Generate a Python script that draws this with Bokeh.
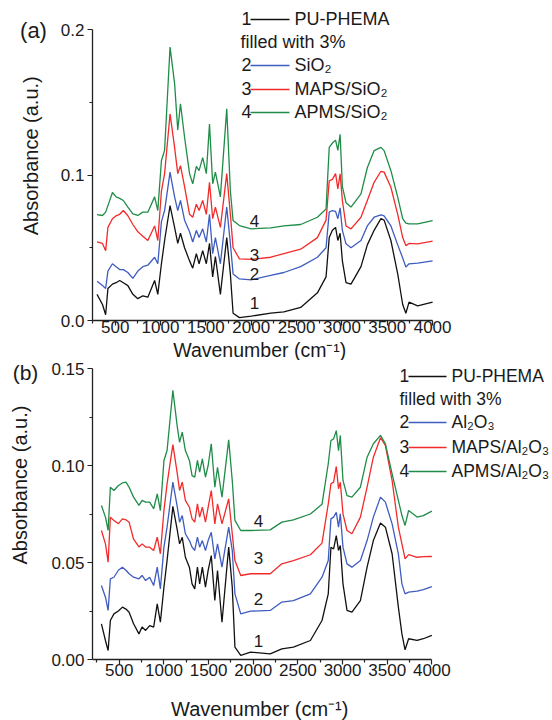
import math
from bokeh.plotting import figure
from bokeh.layouts import column, row
from bokeh.models import Label, FixedTicker, PrintfTickFormatter, Range1d
from bokeh.core.properties import value
from bokeh.embed import file_html
from bokeh.resources import INLINE

# ---------------- data: panel (a), SiO2 fillers ----------------
WN_A = [300, 360, 395, 420, 470, 510, 550, 590, 640, 695, 750, 805, 860, 935, 970,
        1010, 1045, 1105, 1155, 1190, 1220, 1265, 1320, 1355, 1395, 1425, 1465, 1505,
        1540, 1575, 1605, 1660, 1730, 1770, 1800, 1870, 2000, 2215, 2360, 2545, 2730,
        2825, 2860, 2895, 2930, 2955, 2980, 3005, 3045, 3100, 3210, 3280, 3355, 3430,
        3465, 3540, 3615, 3670, 3705, 3740, 3835, 4000]
A1 = [0.018, 0.011, 0.004, 0.022, 0.025, 0.026, 0.0275, 0.026, 0.024, 0.018, 0.015, 0.017,
      0.016, 0.0275, 0.018, 0.039, 0.055, 0.079, 0.064, 0.053, 0.060, 0.050, 0.041, 0.036,
      0.046, 0.039, 0.048, 0.039, 0.053, 0.030, 0.044, 0.018, 0.057, 0.032, 0.005, 0.002,
      0.003, 0.005, 0.006, 0.009, 0.019, 0.030, 0.057, 0.062, 0.064, 0.055, 0.060, 0.041,
      0.026, 0.025, 0.037, 0.052, 0.062, 0.070, 0.069, 0.055, 0.032, 0.011, 0.005, 0.0126,
      0.010, 0.0126]
A2 = [0.027, 0.024, 0.022, 0.034, 0.039, 0.037, 0.035, 0.035, 0.033, 0.029, 0.034, 0.037,
      0.038, 0.0435, 0.039, 0.068, 0.0756, 0.102, 0.085, 0.0756, 0.0825, 0.069, 0.061, 0.054,
      0.062, 0.057, 0.063, 0.054, 0.073, 0.046, 0.057, 0.039, 0.078, 0.053, 0.032, 0.0286,
      0.028, 0.031, 0.033, 0.037, 0.0435, 0.050, 0.0745, 0.0756, 0.075, 0.070, 0.0774, 0.062,
      0.0527, 0.050, 0.055, 0.065, 0.071, 0.0726, 0.072, 0.065, 0.052, 0.043, 0.0367, 0.039,
      0.0394, 0.041]
A3 = [0.054, 0.053, 0.048, 0.064, 0.070, 0.072, 0.073, 0.0756, 0.072, 0.066, 0.061, 0.058,
      0.055, 0.065, 0.055, 0.089, 0.101, 0.142, 0.119, 0.101, 0.1065, 0.092, 0.073, 0.071,
      0.080, 0.0756, 0.0825, 0.073, 0.095, 0.070, 0.078, 0.064, 0.101, 0.073, 0.050, 0.0424,
      0.042, 0.0435, 0.046, 0.049, 0.057, 0.069, 0.096, 0.097, 0.101, 0.0905, 0.1008, 0.0825,
      0.065, 0.063, 0.071, 0.0825, 0.095, 0.1026, 0.102, 0.0916, 0.073, 0.057, 0.0515, 0.053,
      0.0527, 0.0545]
A4 = [0.0728, 0.0722, 0.0745, 0.079, 0.088, 0.085, 0.084, 0.0825, 0.078, 0.0733, 0.0722,
      0.0745, 0.0745, 0.085, 0.0756, 0.110, 0.117, 0.188, 0.163, 0.131, 0.149, 0.126, 0.101,
      0.094, 0.106, 0.103, 0.112, 0.101, 0.135, 0.094, 0.102, 0.085, 0.1455, 0.089, 0.0687,
      0.0653, 0.063, 0.0637, 0.065, 0.066, 0.071, 0.0767, 0.119, 0.122, 0.124, 0.117, 0.128,
      0.092, 0.081, 0.078, 0.087, 0.105, 0.1168, 0.119, 0.1168, 0.103, 0.0848, 0.070, 0.067,
      0.0664, 0.0664, 0.0687]

# ---------------- data: panel (b), Al2O3 fillers ----------------
WN_B = [300, 345, 375, 400, 440, 490, 535, 575, 610, 660, 720, 755, 795, 840, 885, 925, 960,
        1000, 1035, 1100, 1150, 1175, 1205, 1240, 1285, 1315, 1345, 1375, 1400, 1430, 1465,
        1495, 1530, 1570, 1600, 1650, 1725, 1765, 1795, 1860, 1970, 2190, 2320, 2450, 2640,
        2770, 2840, 2870, 2900, 2930, 2955, 2975, 3005, 3050, 3105, 3200, 3275, 3345, 3425,
        3480, 3555, 3625, 3665, 3700, 3740, 3835, 3905, 4000]
B1 = [0.0184, 0.0098, 0.0046, 0.0201, 0.0235, 0.025, 0.027, 0.026, 0.0244, 0.0184, 0.0132,
      0.0167, 0.015, 0.0175, 0.0167, 0.0287, 0.0192, 0.0373, 0.051, 0.0789, 0.0665, 0.0596,
      0.063, 0.0527, 0.0476, 0.039, 0.0364, 0.0476, 0.039, 0.0476, 0.0373, 0.0459, 0.0536,
      0.0304, 0.0459, 0.0192, 0.0579, 0.0373, 0.0064, 0.0021, 0.0038, 0.0029, 0.0055, 0.0064,
      0.0098, 0.0201, 0.0338, 0.0579, 0.057, 0.0639, 0.0562, 0.0588, 0.039, 0.0253, 0.0244,
      0.0304, 0.0476, 0.0613, 0.0703, 0.0682, 0.0545, 0.027, 0.0132, 0.005, 0.0107, 0.0098,
      0.0107, 0.0124]
B2 = [0.0381, 0.0321, 0.0253, 0.0416, 0.0424, 0.046, 0.0476, 0.046, 0.0442, 0.0424, 0.0416,
      0.0433, 0.0407, 0.0424, 0.0381, 0.0476, 0.0364, 0.0579, 0.0682, 0.0914, 0.0785, 0.0708,
      0.0742, 0.0648, 0.0613, 0.0579, 0.0562, 0.0631, 0.0579, 0.0613, 0.0562, 0.0613, 0.0656,
      0.0519, 0.0596, 0.0476, 0.0682, 0.0562, 0.0338, 0.0235, 0.0249, 0.0253, 0.0296, 0.0304,
      0.0338, 0.0424, 0.051, 0.0725, 0.0734, 0.0759, 0.0682, 0.0751, 0.0579, 0.0493, 0.0476,
      0.051, 0.0613, 0.0734, 0.0837, 0.0811, 0.0699, 0.0545, 0.039, 0.0338, 0.0347, 0.0352,
      0.036, 0.0376]
B3 = [0.0665, 0.0596, 0.0502, 0.0734, 0.0717, 0.070, 0.0725, 0.072, 0.0708, 0.062, 0.058,
      0.0596, 0.058, 0.0579, 0.0562, 0.0631, 0.0545, 0.0768, 0.0905, 0.1108, 0.0957, 0.0871,
      0.0914, 0.082, 0.0785, 0.0725, 0.0708, 0.0802, 0.0734, 0.0785, 0.0708, 0.0785, 0.0871,
      0.0699, 0.0802, 0.0699, 0.0828, 0.0648, 0.051, 0.0433, 0.0442, 0.0442, 0.0493, 0.051,
      0.054, 0.060, 0.0802, 0.0906, 0.0914, 0.0995, 0.088, 0.0914, 0.0751, 0.0665, 0.0648,
      0.0734, 0.0888, 0.1043, 0.1143, 0.1103, 0.0923, 0.0682, 0.0596, 0.0519, 0.0541, 0.0527,
      0.053, 0.0531]
B4 = [0.0794, 0.0734, 0.0665, 0.0888, 0.0871, 0.0897, 0.091, 0.0914, 0.0888, 0.0837, 0.0794,
      0.082, 0.0811, 0.0811, 0.0777, 0.0854, 0.0768, 0.1026, 0.1077, 0.1387, 0.1198, 0.112,
      0.1172, 0.1077, 0.1026, 0.0948, 0.094, 0.1026, 0.0966, 0.1034, 0.094, 0.100, 0.1112,
      0.0888, 0.0991, 0.0837, 0.1132, 0.0923, 0.0717, 0.0665, 0.0665, 0.0668, 0.0708, 0.072,
      0.075, 0.080, 0.1009, 0.1129, 0.1137, 0.118, 0.1077, 0.1155, 0.0923, 0.0845, 0.0837,
      0.0888, 0.1043, 0.1112, 0.1155, 0.1112, 0.0957, 0.082, 0.0742, 0.0691, 0.0768, 0.0734,
      0.0742, 0.0765]

X_TICKS = [500, 1000, 1500, 2000, 2500, 3000, 3500, 4000]
X_MINOR = [250, 750, 1250, 1750, 2250, 2750, 3250, 3750]
YA_TICKS = [0.0, 0.1, 0.2]
YA_MINOR = [0.05, 0.15]
YB_TICKS = [0.0, 0.05, 0.10, 0.15]
YB_MINOR = [0.025, 0.075, 0.125]

LEG_A = ["PU-PHEMA", "filled with 3%", "SiO\u2082", "MAPS/SiO\u2082", "APMS/SiO\u2082"]
LEG_B = ["PU-PHEMA", "filled with 3%", "Al\u2082O\u2083", "MAPS/Al\u2082O\u2083", "APMS/Al\u2082O\u2083"]
X_TITLE = "Wavenumber  (cm\u207b\u00b9)"
Y_TITLE = "Absorbance  (a.u.)"
COLORS = ["#111111", "#3f5cbf", "#f22a2a", "#1f8c48"]
FONT = "Liberation Sans"
TXT = "#1a1a1a"
STRIP_W = 46


def text_fig(w, h, items):
    """A bare figure used only to hold free text outside the plot frames."""
    s = figure(width=w, height=h, x_range=Range1d(0, w), y_range=Range1d(0, h),
               output_backend="svg", toolbar_location=None, min_border=0,
               x_axis_type=None, y_axis_type=None)
    s.outline_line_color = None
    s.background_fill_color = "white"
    s.border_fill_color = "white"
    for x, y, t, size, ang in items:
        s.text(x=[x], y=[y], text=[t], angle=ang, text_font=value(FONT),
               text_font_size=value(f"{size}px"), text_align=value("center"),
               text_baseline=value("middle"), text_color=TXT)
    return s


def base_fig(h, x0, x1, y1, bottom, xstand):
    p = figure(width=552 - STRIP_W, height=h, x_range=Range1d(x0, x1), y_range=Range1d(0, y1),
               output_backend="svg", toolbar_location=None,
               min_border_left=92 - STRIP_W, min_border_right=0, min_border_top=0,
               min_border_bottom=bottom)
    p.outline_line_color = None
    p.xgrid.visible = False
    p.ygrid.visible = False
    p.background_fill_color = "white"
    p.border_fill_color = "white"
    for ax in (p.xaxis[0], p.yaxis[0]):
        ax.axis_line_width = 1.3
        ax.axis_line_color = "#222222"
        ax.major_tick_line_color = "#222222"
        ax.minor_tick_line_color = "#222222"
        ax.major_tick_line_width = 1.2
        ax.minor_tick_line_width = 1.2
        ax.major_tick_in = 0
        ax.major_tick_out = 5
        ax.minor_tick_in = 0
        ax.minor_tick_out = 3
        ax.major_label_text_font = FONT
        ax.major_label_text_font_size = "17px"
        ax.major_label_text_color = TXT
        ax.major_label_standoff = 3
    xa = p.xaxis[0]
    xa.ticker = FixedTicker(ticks=X_TICKS, minor_ticks=X_MINOR)
    xa.major_label_standoff = xstand
    return p


def lab(p, x, y, text, size, align="left"):
    p.add_layout(Label(x=x, y=y, text=text, text_font=FONT, text_font_size=f"{size}px",
                       text_align=align, text_baseline="middle", text_color=TXT))


nums = ["1", None, "2", "3", "4"]
cidx = [0, None, 1, 2, 3]

# ---------------- panel (a) ----------------
HA = 340        # plot row height of panel (a)
TA = 20         # strip holding the (a) x-axis title
SA_X = 0.0907   # px per cm-1
SA_Y = 1454.5   # px per absorbance unit
def ax_(px): return 250 + (px - 92) / SA_X
def ay_(py): return (320 - py) / SA_Y

pa = base_fig(HA, 250, ax_(552), ay_(0), HA - 320, -5)
pa.xaxis[0].bounds = (250, 4000)
pa.yaxis[0].bounds = (0, 0.2)
pa.yaxis[0].ticker = FixedTicker(ticks=YA_TICKS, minor_ticks=YA_MINOR)
pa.yaxis[0].formatter = PrintfTickFormatter(format="%.1f")
for ys, c in zip([A1, A2, A3, A4], COLORS):
    pa.line(WN_A, ys, line_color=c, line_width=1.3)

rows_a = [18, 41, 64, 88, 111]
for r, t, n, ci in zip(rows_a, LEG_A, nums, cidx):
    if n is None:
        lab(pa, ax_(240), ay_(r), t, 18)
    else:
        lab(pa, ax_(241), ay_(r), n, 18)
        pa.segment(x0=[ax_(250)], y0=[ay_(r + 1)], x1=[ax_(289)], y1=[ay_(r + 1)],
                   line_color=COLORS[ci], line_width=1.3)
        lab(pa, ax_(294), ay_(r), t, 18)
for n, py in zip(["4", "3", "2", "1"], [220, 254, 273, 302]):
    lab(pa, ax_(254), ay_(py), n, 17, align="center")

sa = text_fig(STRIP_W, HA, [(33, HA - 32, "(a)", 22, 0.0),
                            (30, HA - 162, Y_TITLE, 20, math.pi / 2)])
ta = text_fig(552, TA, [(262, TA - (349 - HA), X_TITLE, 19.5, 0.0)])

# ---------------- panel (b) ----------------
TOP_B = HA + TA       # page y where panel (b) starts
BOT_B = 689           # page y where the bottom title strip starts
HB = BOT_B - TOP_B
SB_X = 0.0893
SB_Y = 1940.0
def bx_(px): return 200 + (px - 92) / SB_X
def by_(py): return (659 - py) / SB_Y   # py in page coordinates

pb = base_fig(HB, 200, bx_(552), by_(TOP_B), BOT_B - 659, -1)
pb.xaxis[0].bounds = (200, 4000)
pb.yaxis[0].bounds = (0, 0.15)
pb.yaxis[0].ticker = FixedTicker(ticks=YB_TICKS, minor_ticks=YB_MINOR)
pb.yaxis[0].formatter = PrintfTickFormatter(format="%.2f")
for ys, c in zip([B1, B2, B3, B4], COLORS):
    pb.line(WN_B, ys, line_color=c, line_width=1.3)

rows_b = [375, 398, 421, 446, 470]
for r, t, n, ci in zip(rows_b, LEG_B, nums, cidx):
    if n is None:
        lab(pb, bx_(399), by_(r), t, 17.5)
    else:
        lab(pb, bx_(399), by_(r), n, 17.5)
        pb.segment(x0=[bx_(408)], y0=[by_(r + 1)], x1=[bx_(446)], y1=[by_(r + 1)],
                   line_color=COLORS[ci], line_width=1.3)
        lab(pb, bx_(451), by_(r), t, 17.5)
for n, py in zip(["4", "3", "2", "1"], [520, 557, 598, 640]):
    lab(pb, bx_(258), by_(py), n, 17, align="center")

sb = text_fig(STRIP_W, HB, [(25, BOT_B - 373, "(b)", 21, 0.0),
                            (19, BOT_B - 494, Y_TITLE, 20, math.pi / 2)])
tb = text_fig(552, 720 - BOT_B, [(262, 720 - 708, X_TITLE, 20, 0.0)])

layout = column(row(sa, pa, spacing=0), ta,
                row(sb, pb, spacing=0), tb,
                spacing=0)
open("out.html", "w").write(file_html(layout, INLINE))
